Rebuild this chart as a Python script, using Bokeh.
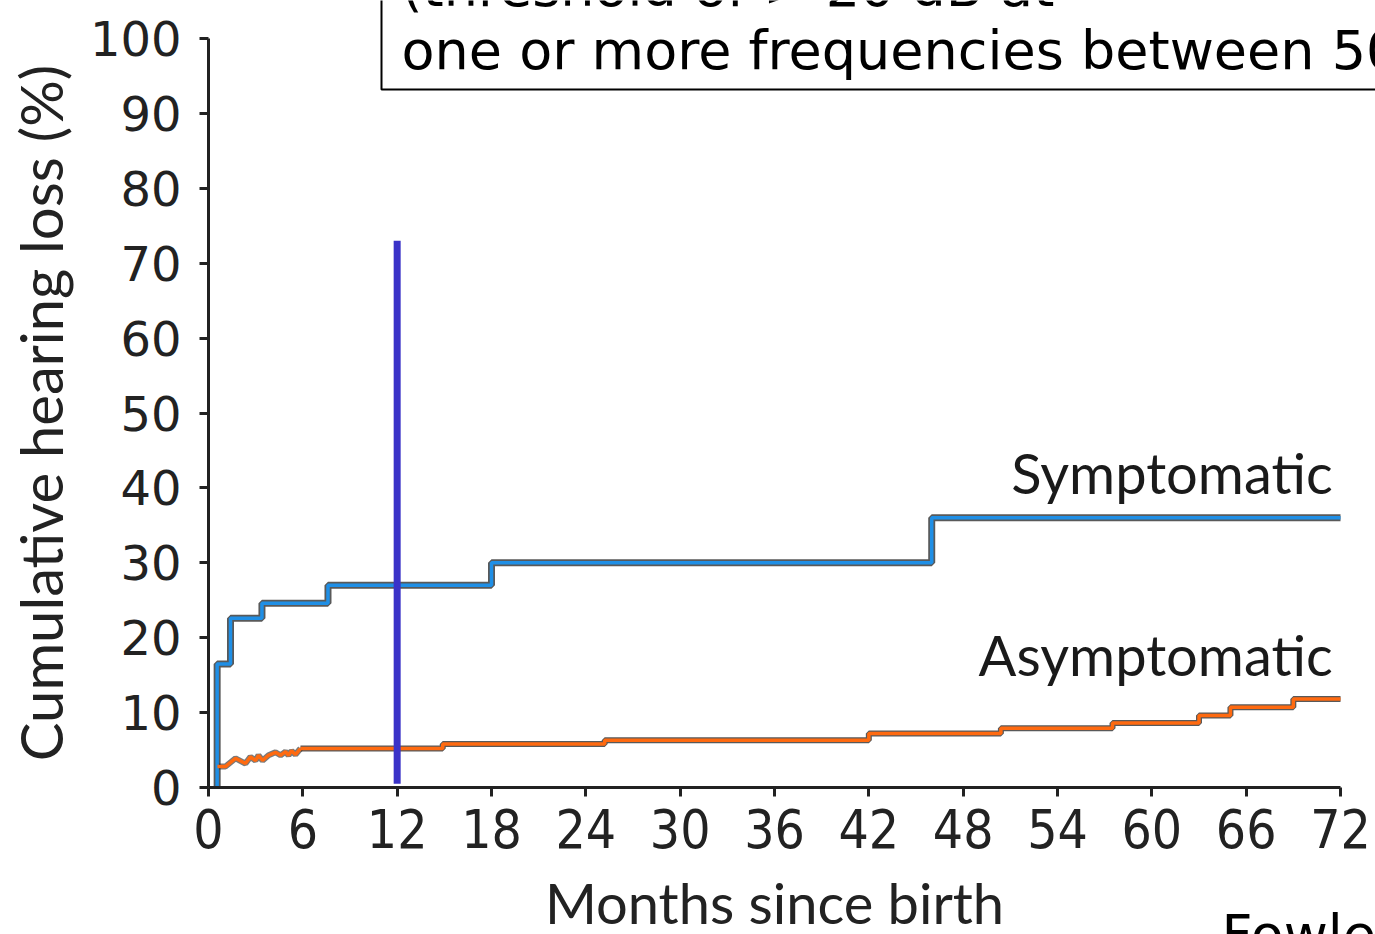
from bokeh.plotting import figure
from bokeh.models import Range1d, FixedTicker, Label
from bokeh.core.properties import value
from bokeh.embed import file_html
from bokeh.resources import INLINE

# ---- data ----
sym_x = [0.55, 0.55, 1.4, 3.4, 7.6, 18.0, 46.0, 72.0]
sym_y = [0.0, 16.5, 22.6, 24.6, 27.0, 30.0, 36.0, 36.0]

asym_early_x = [0.57, 1.08, 1.72, 2.35, 2.67, 2.99, 3.18, 3.44, 3.82, 4.26, 4.58, 4.90, 5.09, 5.28, 5.53, 5.85]
asym_early_y = [2.8, 2.8, 3.9, 3.2, 4.1, 3.6, 4.3, 3.6, 4.3, 4.7, 4.3, 4.8, 4.3, 4.9, 4.4, 5.2]
asym_step_x = [5.85, 14.9, 25.2, 42.0, 50.4, 57.5, 63.0, 65.0, 69.0, 72.0]
asym_step_y = [5.2, 5.8, 6.3, 7.2, 7.9, 8.6, 9.6, 10.7, 11.8, 11.8]

marker_x = [12.0]
marker_y0 = [0.5]
marker_y1 = [73.0]

x_ticks = [0, 6, 12, 18, 24, 30, 36, 42, 48, 54, 60, 66, 72]
y_ticks = [0, 10, 20, 30, 40, 50, 60, 70, 80, 90, 100]

series_labels = ["Symptomatic", "Asymptomatic"]
label_x = [71.5, 71.5]
label_y = [42.0, 17.8]

box_text = "(threshold of > 20 dB at\none or more frequencies between 500 and 4000 Hz)"
source_text = "Fowler et al."

BLUE = "#1f8fe6"
ORANGE = "#ff6a10"
VIOLET = "#3a32c8"

# ---- layout: axes sit at fixed locations inside a frame that fills the canvas ----
W, H = 1375, 934
AX_LEFT, AX_RIGHT, AX_TOP, AX_BOTTOM = 208, 1340, 38, 787   # pixel positions of x=0, x=72, y=100, y=0
px_x = (AX_RIGHT - AX_LEFT) / 72.0
px_y = (AX_BOTTOM - AX_TOP) / 100.0
x_range = Range1d(-AX_LEFT / px_x, 72 + (W - AX_RIGHT) / px_x)
y_range = Range1d(-(H - AX_BOTTOM) / px_y, 100 + AX_TOP / px_y)

p = figure(width=W, height=H, x_range=x_range, y_range=y_range,
           output_backend="svg", toolbar_location=None,
           min_border_left=0, min_border_right=0, min_border_top=0, min_border_bottom=0)
p.outline_line_color = None
p.xgrid.grid_line_color = None
p.ygrid.grid_line_color = None
p.background_fill_color = "white"
p.border_fill_color = "white"

# shadows
p.step(sym_x, sym_y, mode="after", line_color="#222222", line_width=7, line_alpha=0.75)
p.line(asym_early_x, asym_early_y, line_color="#222222", line_width=6, line_alpha=0.6)
p.step(asym_step_x, asym_step_y, mode="after", line_color="#222222", line_width=6, line_alpha=0.75)
# coloured lines
p.step(sym_x, sym_y, mode="after", line_color=BLUE, line_width=3.5)
p.line(asym_early_x, asym_early_y, line_color=ORANGE, line_width=3.5)
p.step(asym_step_x, asym_step_y, mode="after", line_color=ORANGE, line_width=3.5)

p.segment(x0=marker_x, y0=marker_y0, x1=marker_x, y1=marker_y1, line_color=VIOLET, line_width=7)

p.text(x=label_x, y=label_y, text=series_labels, text_align="right", text_baseline="alphabetic",
       text_font=value("Lato"), text_font_size="56px", text_color="#1a1a1a")

# axes
for ax in (p.xaxis[0], p.yaxis[0]):
    ax.fixed_location = 0
    ax.axis_line_color = "#222222"
    ax.axis_line_width = 3
    ax.major_tick_line_color = "#222222"
    ax.major_tick_line_width = 3
    ax.major_tick_out = 9
    ax.major_tick_in = 0
    ax.minor_tick_line_color = None
    ax.major_label_text_color = "#222222"
    ax.axis_label_text_color = "#222222"
    ax.axis_label_text_font_style = "normal"

p.xaxis.bounds = (0, 72)
p.yaxis.bounds = (0, 100)
p.xaxis.ticker = FixedTicker(ticks=x_ticks)
p.yaxis.ticker = FixedTicker(ticks=y_ticks)

p.xaxis.major_label_text_font = '"Liberation Sans Narrow", "DejaVu Sans Condensed", "Roboto Condensed", Roboto'
p.xaxis.major_label_text_font_size = "53px"
p.xaxis.major_label_standoff = 12
p.xaxis.axis_label = "Months since birth"
p.xaxis.axis_label_text_font = "Lato"
p.xaxis.axis_label_text_font_size = "56px"
p.xaxis.axis_label_standoff = 18

p.yaxis.major_label_text_font = "DejaVu Sans"
p.yaxis.major_label_text_font_size = "48px"
p.yaxis.major_label_standoff = 18
p.yaxis.axis_label = "Cumulative hearing loss (%)"
p.yaxis.axis_label_text_font = "Lato"
p.yaxis.axis_label_text_font_size = "58px"
p.yaxis.axis_label_standoff = 12

# boxed note at the top (cropped in the reference)
note = Label(x=381, y=H - 89, x_units="screen", y_units="screen", text=box_text,
             text_align="left", text_baseline="bottom", text_line_height=1.0,
             text_font="DejaVu Sans", text_font_size="54px", text_color="black",
             border_line_color="black", border_line_width=2,
             background_fill_color="white", padding=(20, 20, 9, 8))
p.add_layout(note)

src = Label(x=1221, y=H - 902, x_units="screen", y_units="screen", text=source_text,
            text_align="left", text_baseline="top",
            text_font="DejaVu Sans", text_font_size="54px", text_color="black")
p.add_layout(src)

open("out.html", "w").write(file_html(p, INLINE))
